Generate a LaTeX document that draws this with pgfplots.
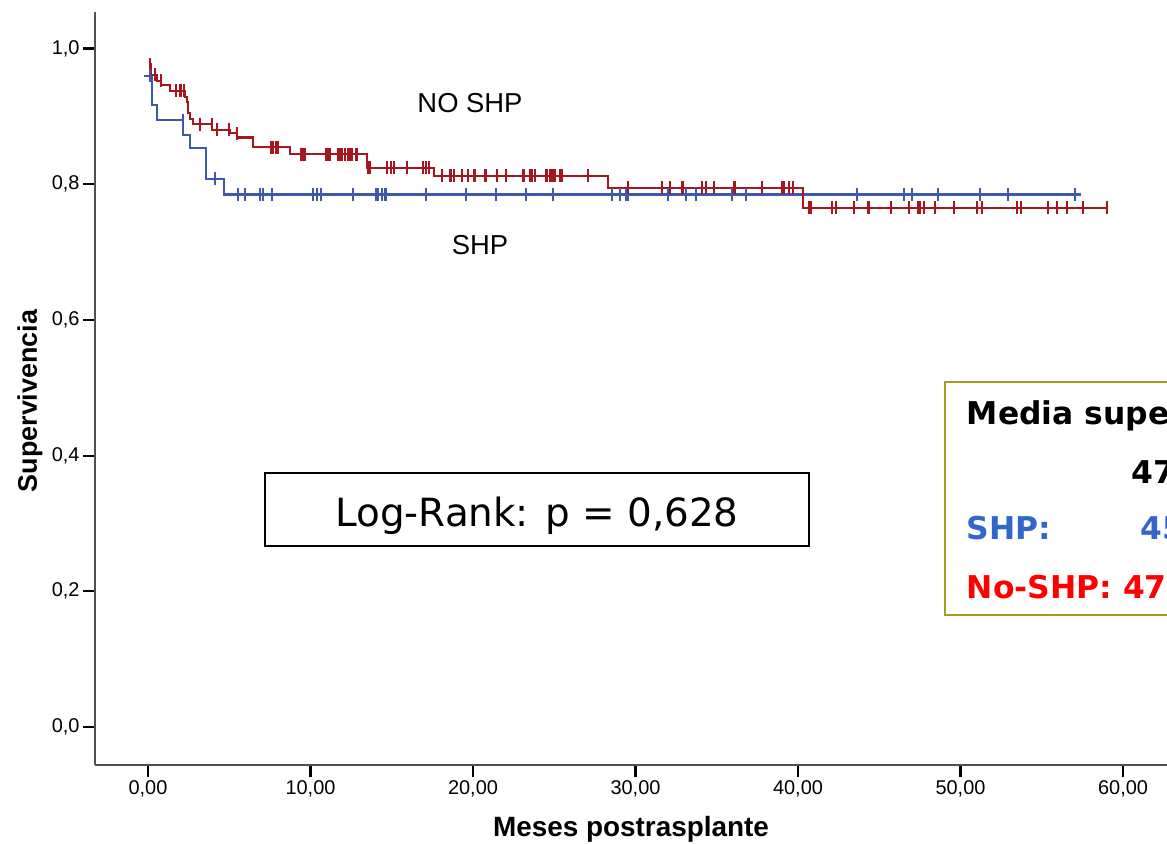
\documentclass[border=0pt]{standalone}
\usepackage{fontspec}
\setmainfont{Liberation Sans}
\newfontfamily\dejavu{DejaVu Sans}
\usepackage{pgfplots}
\pgfplotsset{compat=1.18}
\definecolor{kmblue}{RGB}{62,88,172}
\definecolor{kmred}{RGB}{166,22,30}
\definecolor{olivebox}{RGB}{160,160,30}
\definecolor{txtblue}{RGB}{51,102,204}
\definecolor{axgray}{RGB}{80,80,80}
\begin{document}
\begin{tikzpicture}[x=1bp,y=1bp]
\begin{axis}[
  at={(95bp,79bp)}, anchor=south west,
  scale only axis, width=1084.85bp, height=753.1bp,
  xmin=-3.26, xmax=63.5, ymin=-0.056, ymax=1.054,
  axis x line*=bottom, axis y line*=left,
  axis line style={line width=2bp, color=axgray},
  tick align=outside, major tick length=12bp,
  tick style={line width=2.2bp, black},
  xtick={0,10,20,30,40,50,60},
  xticklabels={{0,00},{10,00},{20,00},{30,00},{40,00},{50,00},{60,00}},
  ytick={0,0.2,0.4,0.6,0.8,1},
  yticklabels={{0,0},{0,2},{0,4},{0,6},{0,8},{1,0}},
  ticklabel style={font=\fontsize{20}{23}\selectfont},
  clip=false,
]
% SHP (blue)
\addplot[const plot, kmblue, line width=2.2bp] coordinates {
 (-0.25,0.96) (0.23,0.9167) (0.57,0.8946) (2.17,0.8725) (2.58,0.8529)
 (3.57,0.8077) (4.70,0.785) (57.4,0.785)
};
\addplot[only marks, kmblue, mark=|, mark size=6.5bp, mark options={line width=2.2bp}] coordinates {
 (0.12,0.96) (2.17,0.8946) (4.12,0.8077)
 (5.52,0.785) (5.97,0.785) (6.89,0.785) (7.09,0.785) (7.61,0.785)
 (10.15,0.785) (10.40,0.785) (10.65,0.785) (12.60,0.785)
 (14.03,0.785) (14.15,0.785) (14.38,0.785) (14.62,0.785) (17.09,0.785)
 (19.59,0.785) (21.42,0.785) (23.26,0.785) (24.90,0.785)
 (28.54,0.785) (29.05,0.785) (29.42,0.785) (29.56,0.785)
 (32.0,0.785) (33.11,0.785) (33.72,0.785) (35.92,0.785) (36.78,0.785)
 (43.61,0.785) (46.52,0.785) (47.03,0.785) (48.60,0.785) (51.2,0.785)
 (52.90,0.785) (57.05,0.785)
};
% NO SHP (red)
\addplot[const plot, kmred, line width=2.2bp] coordinates {
 (0.05,0.985) (0.1,0.977) (0.15,0.969) (0.2,0.961) (0.535,0.9526) (0.8,0.946)
 (1.35,0.9378) (2.28,0.929) (2.38,0.9207) (2.48,0.9045) (2.58,0.8956)
 (2.79,0.8887) (3.95,0.880) (5.05,0.875) (5.5,0.869) (6.45,0.8544)
 (8.74,0.8445) (13.5,0.824) (17.6,0.8126) (28.33,0.7949) (40.33,0.7654)
 (59.1,0.7654)
};
\addplot[only marks, kmred, mark=|, mark size=6.5bp, mark options={line width=2.2bp}] coordinates {
 (0.45,0.961) (0.78,0.9526)
 (1.72,0.9378) (2.0,0.9378) (2.2,0.9378)
 (3.2,0.8887) (3.92,0.8887) (4.23,0.880) (5.0,0.880) (5.46,0.875)
 (7.57,0.8544) (7.71,0.8544) (7.86,0.8544) (8.02,0.8544)
 (9.40,0.8445) (9.52,0.8445) (9.66,0.8445) (10.98,0.8445) (11.17,0.8445)
 (11.72,0.8445) (11.91,0.8445) (12.12,0.8445) (12.34,0.8445) (12.52,0.8445) (12.83,0.8445)
 (13.56,0.824) (13.66,0.824) (14.73,0.824) (14.94,0.824) (15.14,0.824)
 (15.96,0.824) (16.90,0.824) (17.11,0.824) (17.31,0.824)
 (18.11,0.8126) (18.62,0.8126) (18.83,0.8126) (19.30,0.8126) (19.71,0.8126)
 (20.09,0.8126) (20.74,0.8126) (20.80,0.8126) (21.48,0.8126) (22.03,0.8126)
 (23.11,0.8126) (23.51,0.8126) (23.61,0.8126) (23.82,0.8126) (24.52,0.8126)
 (24.77,0.8126) (24.95,0.8126) (25.05,0.8126) (25.35,0.8126) (25.46,0.8126) (27.08,0.8126)
 (29.52,0.7949) (29.56,0.7949) (31.65,0.7949) (32.12,0.7949) (32.86,0.7949)
 (32.94,0.7949) (34.07,0.7949) (34.34,0.7949) (34.85,0.7949) (36.06,0.7949)
 (36.12,0.7949) (37.77,0.7949) (39.03,0.7949) (39.14,0.7949) (39.46,0.7949) (39.67,0.7949)
 (40.69,0.7654) (40.78,0.7654) (42.07,0.7654) (42.32,0.7654) (43.45,0.7654)
 (44.33,0.7654) (44.39,0.7654) (45.72,0.7654) (46.85,0.7654) (47.37,0.7654)
 (47.51,0.7654) (47.75,0.7654) (48.45,0.7654) (49.60,0.7654) (51.02,0.7654)
 (51.34,0.7654) (53.46,0.7654) (53.71,0.7654) (55.38,0.7654) (55.92,0.7654)
 (56.57,0.7654) (57.56,0.7654) (59.0,0.7654)
};
\end{axis}
% axis labels
\node[font=\fontsize{28}{31}\selectfont\bfseries, inner sep=0] at (631bp,15bp) {Meses postrasplante};
\node[font=\fontsize{27}{30}\selectfont\bfseries, inner sep=0, rotate=90] at (30bp,443bp) {Supervivencia};
% curve labels
\node[font=\fontsize{27.5}{30}\selectfont, inner sep=0] at (470bp,741bp) {NO SHP};
\node[font=\fontsize{27.5}{30}\selectfont, inner sep=0] at (480bp,599bp) {SHP};
% Log-rank box
\draw[line width=1.5bp, black] (265bp,298bp) rectangle (809bp,371bp);
\node[font=\dejavu\fontsize{39}{44}\selectfont, inner sep=0, anchor=base] at (537bp,317.7bp) {Log-Rank: p = 0,628};
% mean survival box
\draw[line width=2bp, olivebox] (945bp,229bp) rectangle (1320bp,462bp);
\node[font=\dejavu\bfseries\fontsize{31.5}{36}\selectfont, inner sep=0, anchor=base west] at (966.7bp,419bp) {Media supervivencia};
\node[font=\dejavu\bfseries\fontsize{31.5}{36}\selectfont, inner sep=0, anchor=base west] at (1131.7bp,360.7bp) {47,2 meses};
\node[font=\dejavu\bfseries\fontsize{31.5}{36}\selectfont, inner sep=0, anchor=base west, text=txtblue] at (966.7bp,304bp) {SHP:};
\node[font=\dejavu\bfseries\fontsize{31.5}{36}\selectfont, inner sep=0, anchor=base west, text=txtblue] at (1140bp,304bp) {45,9};
\node[font=\dejavu\bfseries\fontsize{31.5}{36}\selectfont, inner sep=0, anchor=base west, text=red] at (966.7bp,245.7bp) {No-SHP: 47,5};
\pgfresetboundingbox
\useasboundingbox (0,0) rectangle (1167bp,844bp);
\end{tikzpicture}
\end{document}
